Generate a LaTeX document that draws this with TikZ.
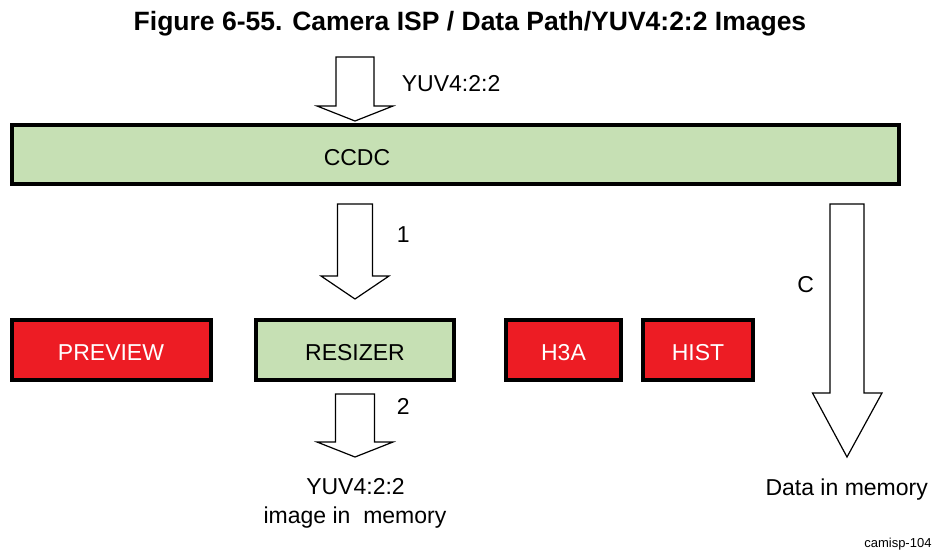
\documentclass[tikz,border=0pt]{standalone}
\usepackage{fontspec}
\setmainfont{Liberation Sans}
\definecolor{boxgreen}{RGB}{198,224,180}
\definecolor{boxred}{RGB}{237,28,36}
\begin{document}
\begin{tikzpicture}[x=1pt,y=-1pt,
  blk/.style={draw=black,line width=4pt},
  greenbox/.style={blk,fill=boxgreen},
  redbox/.style={blk,fill=boxred},
  barrow/.style={draw=black,line width=1.2pt,fill=white,line join=miter},
  lbl/.style={inner sep=0pt,font=\fontsize{23}{26}\selectfont},
  boxtxt/.style={inner sep=0pt,font=\fontsize{23}{26}\selectfont},
]
\useasboundingbox (0,0) rectangle (934,550);
% title
\node[inner sep=0pt,anchor=base,font=\fontsize{26.5}{30}\selectfont\bfseries] (title) at (470,30) {Figure 6-55. Camera ISP / Data Path/YUV4:2:2 Images};
% boxes
\draw[greenbox] (11.7,125) rectangle (898.5,183.5);
\node[boxtxt,anchor=base] (ccdc) at (357,165) {CCDC};
\draw[redbox] (11.7,320) rectangle (210.7,380);
\node[boxtxt,anchor=base,text=white] (preview) at (111,360) {PREVIEW};
\draw[greenbox] (256,320) rectangle (454,380);
\node[boxtxt,anchor=base] (resizer) at (355,360) {RESIZER};
\draw[redbox] (506.3,320) rectangle (620.7,380);
\node[boxtxt,anchor=base,text=white] (h3a) at (563.5,360) {H3A};
\draw[redbox] (642.7,320) rectangle (753.3,380);
\node[boxtxt,anchor=base,text=white] (hist) at (698,360) {HIST};
% block arrows
\draw[barrow] (336,57) -- (374,57) -- (374,106) -- (393,106) -- (355,121) -- (317,106) -- (336,106) -- cycle;
\draw[barrow] (337.5,204) -- (372.5,204) -- (372.5,276) -- (389,276) -- (355,299) -- (321,276) -- (337.5,276) -- cycle;
\draw[barrow] (335.5,394) -- (374.5,394) -- (374.5,442) -- (393,442) -- (355,457) -- (317,442) -- (335.5,442) -- cycle;
\draw[barrow] (830,204) -- (864,204) -- (864,393) -- (882,393) -- (847,457) -- (812.5,393) -- (830,393) -- cycle;
% labels
\node[lbl,anchor=base west] (lin) at (401.7,91.7) {YUV4:2:2};
\node[lbl,anchor=base west] (l1) at (396.7,242.7) {1};
\node[lbl,anchor=base west] (l2) at (396.7,414) {2};
\node[lbl,anchor=base] (lc) at (805.7,292) {C};
\node[lbl,anchor=base] (lout1) at (355.5,494) {YUV4:2:2};
\node[lbl,anchor=base] (lout2) at (355,523) {image in\ \ memory};
\node[lbl,anchor=base] (ldata) at (846.7,495) {Data in memory};
\node[inner sep=0pt,anchor=base east,font=\fontsize{13}{15}\selectfont] (tag) at (931.7,547) {camisp-104};
\end{tikzpicture}
\end{document}
